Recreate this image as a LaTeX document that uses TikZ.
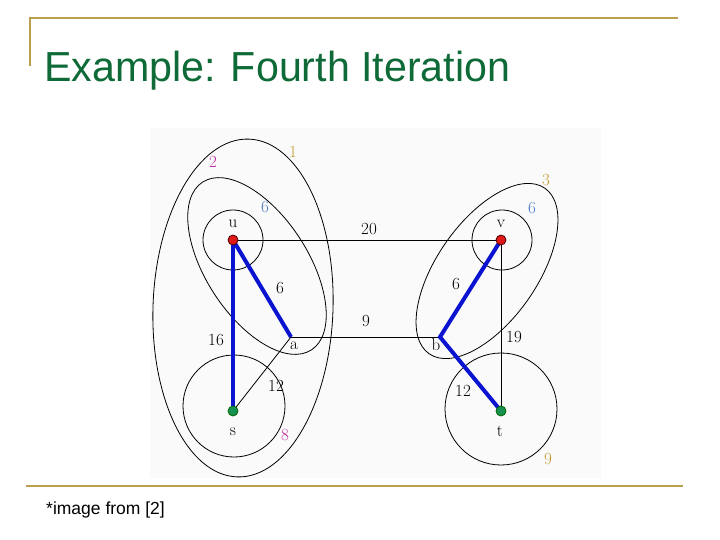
\documentclass[tikz,border=0pt]{standalone}
\usepackage{fontspec}
\newfontfamily\arialfont{Liberation Sans}
\definecolor{gold}{HTML}{C09A30}
\definecolor{rulegold}{HTML}{B8A050}
\definecolor{titlegreen}{HTML}{0E6A36}
\definecolor{labmag}{HTML}{C02CA0}
\definecolor{labblue}{HTML}{4A7CC0}
\definecolor{treeblue}{HTML}{0A14D0}
\definecolor{nodered}{HTML}{E01818}
\definecolor{nodegreen}{HTML}{189050}
\begin{document}
\begin{tikzpicture}[x=1pt,y=-1pt,
  thinedge/.style={draw=black,line width=0.8pt},
  treeedge/.style={draw=treeblue,line width=4pt},
  region/.style={draw=black,line width=0.8pt},
  vred/.style={circle,draw=black!70!red,fill=nodered,line width=0.8pt,minimum size=10pt,inner sep=0pt},
  vgreen/.style={circle,draw=black!60!green,fill=nodegreen,line width=0.8pt,minimum size=10pt,inner sep=0pt},
  lbl/.style={font=\fontsize{17}{17}\selectfont,inner sep=0pt},
  rule/.style={draw=rulegold,line width=2.5pt}]
\useasboundingbox (0,0) rectangle (720,540);
% slide frame
\draw[rule] (30,66) -- (30,18) -- (678,18);
\draw[rule] (26,486) -- (683,486);
\node[anchor=base west,inner sep=0pt,text=titlegreen,font=\arialfont\fontsize{42}{42}\selectfont,xscale=0.98] (title) at (44,82) {Example: Fourth Iteration};
\node[anchor=base west,inner sep=0pt,font=\arialfont\fontsize{17.5}{17.5}\selectfont] (foot) at (46,514) {*image from [2]};
% image background
\fill[gray!4] (150,128) rectangle (601,478);
% regions
\draw[region,shift={(243,308)},rotate=-2] (0,0) ellipse [x radius=90pt,y radius=169pt];
\draw[region,shift={(257,266)},rotate=-57] (0,0) ellipse [x radius=100pt,y radius=51pt];
\draw[region,shift={(487,271)},rotate=55] (0,0) ellipse [x radius=101pt,y radius=50pt];
\draw[region] (233,240) circle [radius=30pt];
\draw[region] (502,240) circle [radius=30pt];
\draw[region] (234,406) circle [radius=51pt];
\draw[region] (501,409) circle [radius=56pt];
% vertices
\coordinate (a) at (291,337);
\coordinate (b) at (440,337);
\coordinate (uc) at (233,240);
\coordinate (vc) at (501,240);
\coordinate (sc) at (233,411);
\coordinate (tc) at (501,411);
% edges
\draw[thinedge] (uc) -- (vc);
\draw[thinedge] (a) -- (b);
\draw[thinedge] (a) -- (sc);
\draw[thinedge] (vc) -- (tc);
\draw[treeedge] (uc) -- (a);
\draw[treeedge] (uc) -- (sc);
\draw[treeedge] (vc) -- (b) -- (tc);
\node[vred] (u) at (uc) {};
\node[vred] (v) at (vc) {};
\node[vgreen] (s) at (sc) {};
\node[vgreen] (t) at (tc) {};
% vertex names
\node[lbl] (nu) at (233,224) {u};
\node[lbl] (nv) at (501,224) {v};
\node[lbl] (na) at (294,346) {a};
\node[lbl] (nb) at (436,345) {b};
\node[lbl] (ns) at (233,432) {s};
\node[lbl] (nt) at (500,431) {t};
% edge weights
\node[lbl] (w20) at (369,229) {\oldstylenums{20}};
\node[lbl] (w9) at (366,321) {9};
\node[lbl] (w6a) at (280,288) {6};
\node[lbl] (w16) at (216,340) {\oldstylenums{16}};
\node[lbl] (w12a) at (276,386) {\oldstylenums{12}};
\node[lbl] (w6b) at (456,284) {6};
\node[lbl] (w12b) at (463,391) {\oldstylenums{12}};
\node[lbl] (w19) at (514,337) {\oldstylenums{19}};
% region values
\node[lbl,text=gold] (r1) at (293,152) {\oldstylenums{1}};
\node[lbl,text=labmag] (r2) at (213,162) {\oldstylenums{2}};
\node[lbl,text=labblue] (r6u) at (265,207) {6};
\node[lbl,text=labblue] (r6v) at (532,208) {6};
\node[lbl,text=gold] (r3) at (546,180) {3};
\node[lbl,text=labmag] (r8) at (285,435) {8};
\node[lbl,text=gold] (r9) at (548,459) {9};
\end{tikzpicture}
\end{document}
